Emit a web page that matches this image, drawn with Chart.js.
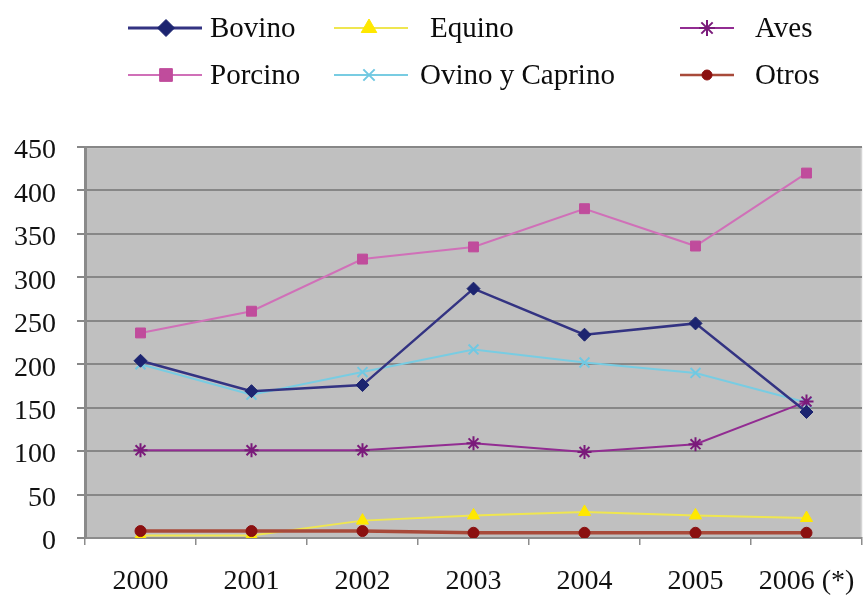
<!DOCTYPE html>
<html>
<head>
<meta charset="utf-8">
<script src="https://cdn.jsdelivr.net/npm/chart.js@4.4.1/dist/chart.umd.min.js"></script>
<style>
  html, body { margin: 0; padding: 0; background: #ffffff; }
  #wrap { position: relative; width: 865px; height: 596px; }
</style>
</head>
<body>
<div id="wrap"><canvas id="chart" width="865" height="596"></canvas></div>
<script>
// Categories and series (thousands of head)
const years   = ['2000', '2001', '2002', '2003', '2004', '2005', '2006 (*)'];
const bovino  = [204, 169, 176, 287, 234, 247, 145];
const porcino = [236, 261, 321, 335, 379, 336, 420];
const equino  = [3, 3, 20, 26, 30, 26, 23];
const ovino   = [200, 165, 191, 217, 202, 190, 156];
const aves    = [101, 101, 101, 109, 99, 108, 157];
const otros   = [8, 8, 8, 6, 6, 6, 6];
const yTicks  = [0, 50, 100, 150, 200, 250, 300, 350, 400, 450];

const FONT = '"Liberation Serif", "Times New Roman", serif';

function series(label, data, line, fill, style, radius, width, order, legend) {
  return {
    label, data, order,
    borderColor: line, borderWidth: width,
    pointStyle: style, pointRadius: radius, pointHoverRadius: radius,
    pointBackgroundColor: fill, pointBorderColor: fill,
    pointBorderWidth: (style === 'crossRot' || style === 'star') ? 2 : 1,
    tension: 0, fill: false,
    legend
  };
}

// legend: column, row, marker radius and line width used in the key
const datasets = [
  series('Bovino', bovino, '#333382', '#1c2470', 'rectRot', 6.5, 2.5, 1, { col: 0, row: 0, r: 8.5, w: 3 }),
  series('Porcino', porcino, '#d070b8', '#c04c9c', 'rect', 7, 2, 4, { col: 0, row: 1, r: 9, w: 2 }),
  series('Equino', equino, '#efe650', '#ffe800', 'triangle', 7, 2, 6, { col: 1, row: 0, r: 9, w: 2 }),
  series('Ovino y Caprino', ovino, '#78cce2', '#70c8e2', 'crossRot', 7, 2, 3, { col: 1, row: 1, r: 8, w: 2 }),
  series('Aves', aves, '#922c92', '#7a1a7a', 'star', 7, 2, 2, { col: 2, row: 0, r: 8, w: 2 }),
  series('Otros', otros, '#a84a3a', '#8b1010', 'circle', 5.5, 3.5, 5, { col: 2, row: 1, r: 5, w: 2.5 })
];

// Legend layout: line start/end, marker x and text x per column; row centres
const legendCols = [
  { x0: 128, x1: 202, mx: 166, tx: 210 },
  { x0: 334, x1: 408, mx: 369, tx: 430 },
  { x0: 680, x1: 734, mx: 707, tx: 755 }
];
const legendTextX = { 'Ovino y Caprino': 420 };
const legendRows = [28, 75];

const plotBackground = {
  id: 'plotBackground',
  beforeDraw(chart) {
    const { ctx, chartArea: a } = chart;
    ctx.save();
    ctx.fillStyle = '#c0c0c0';
    ctx.fillRect(a.left, a.top, a.right - a.left, a.bottom - a.top);
    ctx.strokeStyle = '#d4d4d4';
    ctx.lineWidth = 1.5;
    ctx.beginPath();
    ctx.moveTo(a.left, a.top + 0.5);
    ctx.lineTo(a.right - 0.5, a.top + 0.5);
    ctx.lineTo(a.right - 0.5, a.bottom);
    ctx.stroke();
    ctx.restore();
  }
};

const gridLegend = {
  id: 'gridLegend',
  afterDraw(chart) {
    const ctx = chart.ctx;
    ctx.save();
    chart.data.datasets.forEach(ds => {
      const c = legendCols[ds.legend.col];
      const y = legendRows[ds.legend.row];
      ctx.strokeStyle = ds.borderColor;
      ctx.lineWidth = ds.legend.w;
      ctx.beginPath();
      ctx.moveTo(c.x0, y);
      ctx.lineTo(c.x1, y);
      ctx.stroke();
      ctx.fillStyle = ds.pointBackgroundColor;
      ctx.strokeStyle = ds.pointBorderColor;
      ctx.lineWidth = ds.pointBorderWidth;
      Chart.helpers.drawPoint(ctx, {
        pointStyle: ds.pointStyle, radius: ds.legend.r, rotation: 0,
        borderWidth: ds.pointBorderWidth
      }, c.mx, y);
      ctx.fillStyle = '#0c0c0c';
      ctx.font = '29px ' + FONT;
      ctx.textBaseline = 'middle';
      ctx.textAlign = 'left';
      ctx.fillText(ds.label, legendTextX[ds.label] || c.tx, y + 1);
    });
    ctx.restore();
  }
};

new Chart(document.getElementById('chart'), {
  type: 'line',
  data: { labels: years, datasets },
  plugins: [plotBackground, gridLegend],
  options: {
    responsive: false,
    animation: false,
    layout: { autoPadding: false, padding: { top: 147, right: 3, left: 0, bottom: 0 } },
    plugins: { legend: { display: false }, tooltip: { enabled: false } },
    scales: {
      x: {
        type: 'category',
        offset: true,
        grid: {
          offset: true, drawOnChartArea: false, drawTicks: true,
          tickLength: 7, color: '#8c8c8c', lineWidth: 1.5
        },
        border: { display: true, color: '#8c8c8c', width: 2 },
        ticks: { color: '#111111', font: { family: FONT, size: 28 }, padding: 20, maxRotation: 0, autoSkip: false },
        afterFit(scale) { scale.height = 58; scale.paddingRight = 0; scale.paddingLeft = 0; }
      },
      y: {
        min: 0, max: 450,
        afterBuildTicks(scale) { scale.ticks = yTicks.map(v => ({ value: v })); },
        grid: { color: '#878787', lineWidth: 2, tickLength: 8, drawTicks: true },
        border: { display: true, color: '#8a8a8a', width: 3 },
        ticks: { color: '#111111', font: { family: FONT, size: 28 }, padding: 21, labelOffset: 4 },
        afterFit(scale) { scale.width = 85; }
      }
    }
  }
});
</script>
</body>
</html>
